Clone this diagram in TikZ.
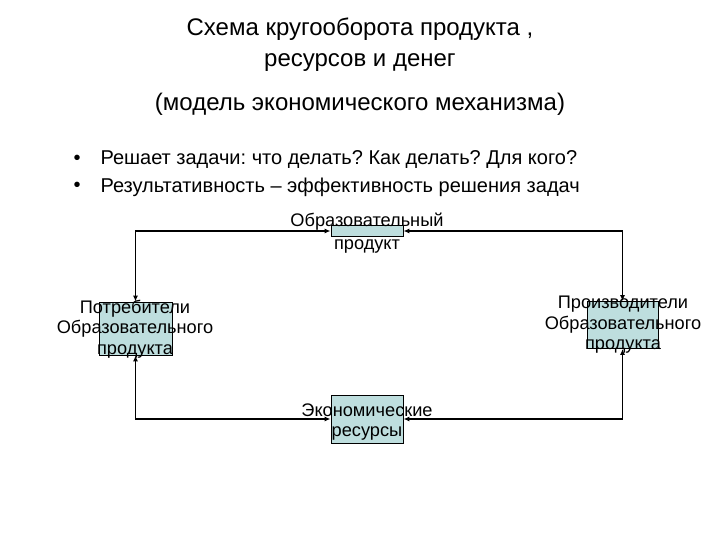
\documentclass[tikz,border=0pt]{standalone}
\usepackage{fontspec}
\setmainfont{Liberation Sans}
\usetikzlibrary{arrows.meta, positioning}
\definecolor{boxfill}{RGB}{190,222,222}
\frenchspacing

\tikzset{
  flowbox/.style={draw=black, line width=0.8pt, fill=boxfill, inner sep=0pt},
  flowtext/.style={align=center, font=\fontsize{18.2}{20.5}\selectfont},
  flowlink/.style={line width=1.7pt, {Latex[length=6pt,width=5pt]}-{Latex[length=6pt,width=5pt]}},
}

\begin{document}
\begin{tikzpicture}[x=1pt, y=-1pt]
    \useasboundingbox (0,0) rectangle (720,540);
    % title
    \node[font=\fontsize{24}{31}\selectfont, align=center] (title) at (360,45) {Схема кругооборота продукта ,\\ресурсов и денег};
    \node[font=\fontsize{24}{28}\selectfont] (subtitle) at (360,104) {(модель экономического механизма)};
    % tasks
    \node[font=\fontsize{20}{24}\selectfont, anchor=west] (dot1) at (70,160) {•};
    \node[font=\fontsize{20}{24}\selectfont, anchor=west] (task1) at (97,160) {Решает задачи: что делать? Как делать? Для кого?};
    \node[font=\fontsize{20}{24}\selectfont, anchor=west] (dot2) at (70,187) {•};
    \node[font=\fontsize{20}{24}\selectfont, anchor=west] (task2) at (97,187) {Результативность – эффективность решения задач};

    % boxes
    \node[flowbox, minimum width=72pt, minimum height=11pt] (product) at (367,231) {};
    \node[flowbox, minimum width=73pt, minimum height=53pt] (consumers) at (135.5,328.5) {};
    \node[flowbox, minimum width=71pt, minimum height=47pt] (producers) at (622.5,325) {};
    \node[flowbox, minimum width=72pt, minimum height=48pt] (resources) at (367,419) {};

    % connectors
    \draw[flowlink] (product.west) -| (consumers.north);
    \draw[flowlink] (product.east) -| (producers.north);
    \draw[flowlink] (consumers.south) |- (resources.west);
    \draw[flowlink] (producers.south) |- (resources.east);

    % labels
    \node[flowtext] (productlbl) at (367,233) {Образовательный\\[3pt]продукт};
    \node[flowtext] (consumerslbl) at (135,329) {Потребители\\Образовательного\\продукта};
    \node[flowtext] (producerslbl) at (623,325) {Производители\\Образовательного\\продукта};
    \node[flowtext] (resourceslbl) at (367,422) {Экономические\\ресурсы};
\end{tikzpicture}
\end{document}
